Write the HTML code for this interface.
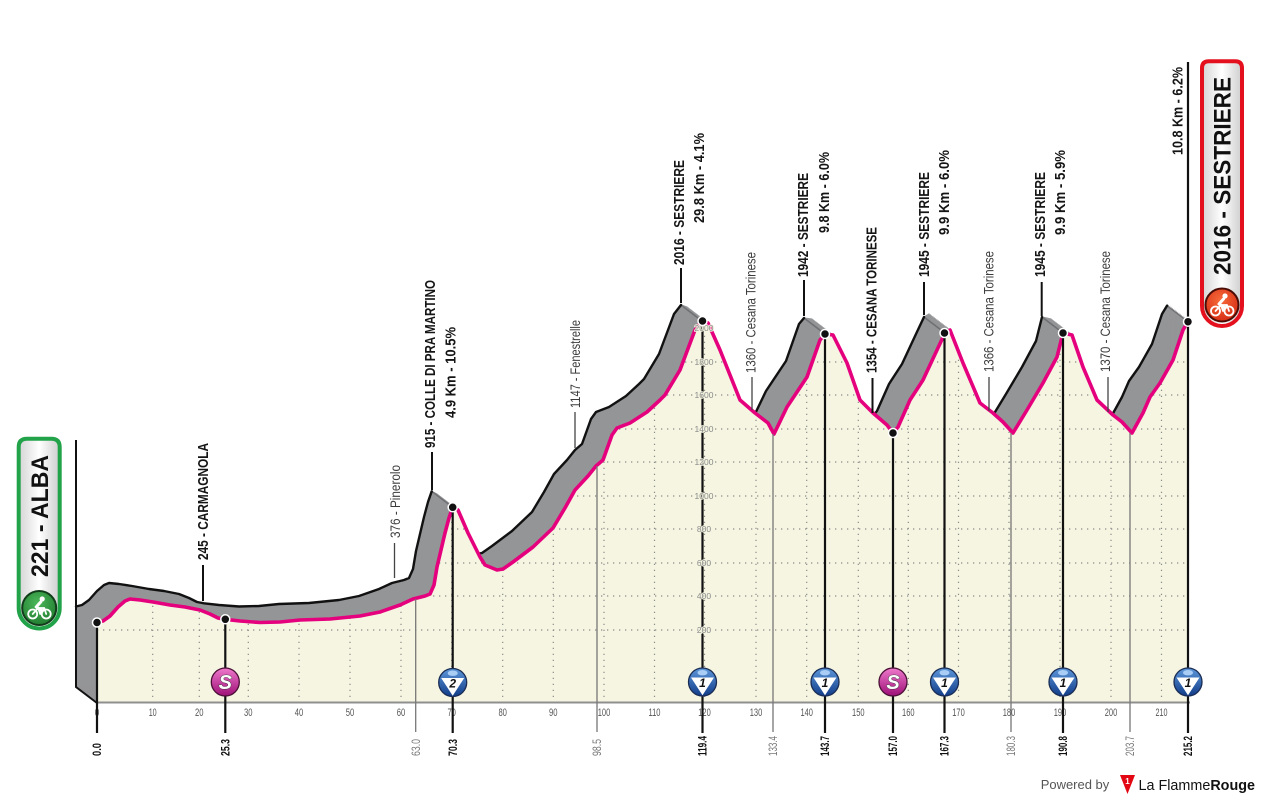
<!DOCTYPE html>
<html><head><meta charset="utf-8"><style>
html,body{margin:0;padding:0;background:#fff;}
svg{display:block;}
.lb{font-family:"Liberation Sans",sans-serif;font-size:15px;font-weight:bold;fill:#151515;}
.lg{font-family:"Liberation Sans",sans-serif;font-size:14px;fill:#3d3d3d;}
.tk{font-family:"Liberation Sans",sans-serif;font-size:11px;fill:#555;}
.kb{font-family:"Liberation Sans",sans-serif;font-size:11.5px;font-weight:bold;fill:#111;}
.kg{font-family:"Liberation Sans",sans-serif;font-size:11.5px;fill:#777;}
.el{font-family:"Liberation Sans",sans-serif;font-size:8.5px;fill:#8a8a8a;stroke:#f5f5e1;stroke-width:1.6px;paint-order:stroke;}
</style></head><body>
<svg width="1261" height="800" viewBox="0 0 1261 800" xmlns="http://www.w3.org/2000/svg">
<defs>
<path id="pk" d="M97,622.5 L103,621 L110,616 L118,607 L125,601 L130,599 L140,600 L153,602 L170,605 L185,607 L200,610 L210,614 L218,618 L225,619.3 L240,621 L260,622.5 L280,622 L300,620 L330,619 L360,616 L380,612 L400,605 L413,599 L425,596 L430,594 L434,585 L437,567 L441,550 L445,533 L449,518 L452.7,507.3 L458,510 L468,533 L480,557 L485,565 L497,570 L503,569 L513,562 L533,547 L553,528 L565,508 L575,490 L588,476 L596,466 L603,460 L612,435 L617,428 L630,423 L647,412 L660,400 L665,395 L680,370 L695,330 L702,321 L708,323 L720,350 L740,400 L755,413 L768,423 L774,434 L787,407 L807,377 L820,340 L825,334 L833,335 L847,363 L860,400 L873,413 L887,425 L893,433 L898,427 L910,400 L923,380 L937,350 L945,333 L950,330 L963,363 L980,403 L993,413 L1003,422 L1013,433 L1027,410 L1043,383 L1057,357 L1063,333 L1072,335 L1083,367 L1097,400 L1113,415 L1122,422 L1132,433 L1143,413 L1150,397 L1160,383 L1173,360 L1183,330 L1188,321.7"/>
<path id="cr" d="M97,622.5 L103,621 L110,616 L118,607 L125,601 L130,599 L140,600 L153,602 L170,605 L185,607 L200,610 L210,614 L218,618 L225,619.3 L240,621 L260,622.5 L280,622 L300,620 L330,619 L360,616 L380,612 L400,605 L413,599 L425,596 L430,594 L434,585 L437,567 L441,550 L445,533 L449,518 L452.7,507.3 L458,510 L468,533 L480,557 L485,565 L497,570 L503,569 L513,562 L533,547 L553,528 L565,508 L575,490 L588,476 L596,466 L603,460 L612,435 L617,428 L630,423 L647,412 L660,400 L665,395 L680,370 L695,330 L702,321 L708,323 L720,350 L740,400 L755,413 L768,423 L774,434 L787,407 L807,377 L820,340 L825,334 L833,335 L847,363 L860,400 L873,413 L887,425 L893,433 L898,427 L910,400 L923,380 L937,350 L945,333 L950,330 L963,363 L980,403 L993,413 L1003,422 L1013,433 L1027,410 L1043,383 L1057,357 L1063,333 L1072,335 L1083,367 L1097,400 L1113,415 L1122,422 L1132,433 L1143,413 L1150,397 L1160,383 L1173,360 L1183,330 L1188,321.7 L1188,703 L97,703 Z"/>
<path id="bk" d="M97,622.5 L103,621 L110,616 L118,607 L125,601 L130,599 L140,600 L153,602 L170,605 L185,607 L200,610 L210,614 L218,618 L225,619.3 L240,621 L260,622.5 L280,622 L300,620 L330,619 L360,616 L380,612 L400,605 L413,599 L425,596 L430,594 L434,585 L437,567 L441,550 L445,533 L449,518 L452.7,507.3 M485,565 L497,570 L503,569 L513,562 L533,547 L553,528 L565,508 L575,490 L588,476 L596,466 L603,460 L612,435 L617,428 L630,423 L647,412 L660,400 L665,395 L680,370 L695,330 L702,321 M768,423 L774,434 L787,407 L807,377 L820,340 L825,334 M887,425 L893,433 L898,427 L910,400 L923,380 L937,350 L945,333 M1003,422 L1013,433 L1027,410 L1043,383 L1057,357 L1063,333 M1122,422 L1132,433 L1143,413 L1150,397 L1160,383 L1173,360 L1183,330 L1188,321.7"/>
<clipPath id="cc"><use href="#cr"/></clipPath>
<linearGradient id="gb" x1="0" y1="0" x2="0" y2="1"><stop offset="0" stop-color="#5d97da"/><stop offset="1" stop-color="#113c88"/></linearGradient>
<linearGradient id="gp" x1="0" y1="0" x2="0" y2="1"><stop offset="0" stop-color="#ee79cc"/><stop offset="1" stop-color="#9e0f76"/></linearGradient>
<linearGradient id="bg" x1="0" y1="0" x2="1" y2="0"><stop offset="0" stop-color="#d4d4d4"/><stop offset="0.5" stop-color="#ffffff"/><stop offset="1" stop-color="#cdcdcd"/></linearGradient>
<radialGradient id="gg" cx="0.45" cy="0.35" r="0.7"><stop offset="0" stop-color="#4cb85a"/><stop offset="1" stop-color="#1f7a2e"/></radialGradient>
<radialGradient id="gr" cx="0.45" cy="0.35" r="0.7"><stop offset="0" stop-color="#f76a3a"/><stop offset="1" stop-color="#d42a12"/></radialGradient>
<g id="bl">
 <circle r="14" fill="url(#gb)" stroke="#1b2d55" stroke-width="1.3"/>
 <ellipse cx="0" cy="-9.3" rx="5" ry="2.7" fill="#a9cdf5"/>
 <path d="M-11.5,-4.5 L11.5,-4.5 L0,13.2 Z" fill="#fff"/>
</g>
<g id="ps">
 <circle r="14" fill="url(#gp)" stroke="#4a1036" stroke-width="1.3"/>
 <text x="0" y="7" text-anchor="middle" font-family="Liberation Sans,sans-serif" font-size="20" font-weight="bold" font-style="italic" fill="#fff" stroke="#333" stroke-width="0.8" paint-order="stroke">S</text>
</g>
<g id="cyc" fill="none" stroke="#fff" stroke-width="1.8" stroke-linecap="round" stroke-linejoin="round">
 <circle cx="-6.5" cy="5" r="4.5"/>
 <circle cx="7" cy="5" r="4.5"/>
 <path d="M-6.5,5 L-1,-1 L5,-1 L7,5 M-1,-1 L1,5 L5,-1"/>
 <circle cx="3" cy="-10" r="2.6" fill="#fff" stroke="none"/>
 <path d="M1.5,-7 L-3,-2 L3,2" stroke-width="3"/>
</g>
</defs>

<!-- grey extrusion -->
<g fill="#949597" stroke="#949597" stroke-width="1.2">
<use href="#cr" transform="translate(-1.31,-1)"/>
<use href="#cr" transform="translate(-2.63,-2)"/>
<use href="#cr" transform="translate(-3.94,-3)"/>
<use href="#cr" transform="translate(-5.25,-4)"/>
<use href="#cr" transform="translate(-6.56,-5)"/>
<use href="#cr" transform="translate(-7.88,-6)"/>
<use href="#cr" transform="translate(-9.19,-7)"/>
<use href="#cr" transform="translate(-10.5,-8)"/>
<use href="#cr" transform="translate(-11.81,-9)"/>
<use href="#cr" transform="translate(-13.13,-10)"/>
<use href="#cr" transform="translate(-14.44,-11)"/>
<use href="#cr" transform="translate(-15.75,-12)"/>
<use href="#cr" transform="translate(-17.06,-13)"/>
<use href="#cr" transform="translate(-18.38,-14)"/>
<use href="#cr" transform="translate(-19.69,-15)"/>
<use href="#cr" transform="translate(-21,-16)"/>
</g>
<!-- peak edges -->
<g stroke="#6f7073" stroke-width="1.5">
<line x1="431.7" y1="491.3" x2="452.7" y2="507.3"/>
<line x1="681" y1="305" x2="702" y2="321"/>
<line x1="804" y1="318" x2="825" y2="334"/>
<line x1="924" y1="317" x2="945" y2="333"/>
<line x1="1042" y1="317" x2="1063" y2="333"/>
<line x1="1167" y1="305.7" x2="1188" y2="321.7"/>
</g>
<use href="#bk" transform="translate(-21,-16)" fill="none" stroke="#111" stroke-width="2.4" stroke-linejoin="round" stroke-linecap="round"/>
<path d="M76,606.5 L76,687 L97,703" fill="none" stroke="#111" stroke-width="2"/>
<line x1="76" y1="440" x2="76" y2="607" stroke="#111" stroke-width="2"/>

<!-- cream area -->
<use href="#cr" fill="#f5f5e1"/>

<!-- grid -->
<g clip-path="url(#cc)" stroke="#8c8c8c" stroke-width="1.2" stroke-dasharray="1.3 4.7" fill="none">
<path d="M97,630H1188M97,596H1188M97,563H1188M97,529H1188M97,496H1188M97,462H1188M97,429H1188M97,395H1188M97,362H1188M97,328H1188"/>
<path d="M152.7,703V300M199.3,703V300M248.3,703V300M299,703V300M350,703V300M401,703V300M451.7,703V300M502.7,703V300M553.3,703V300M604,703V300M654.5,703V300M704.5,703V300M756,703V300M806.7,703V300M858.3,703V300M908.3,703V300M958.5,703V300M1009,703V300M1060,703V300M1111,703V300M1161.5,703V300"/>
</g>

<!-- pink line -->
<use href="#pk" fill="none" stroke="#e5007d" stroke-width="3.6" stroke-linejoin="round" stroke-linecap="round"/>

<!-- axis -->
<line x1="97" y1="702.5" x2="1190" y2="702.5" stroke="#8f8f8f" stroke-width="2"/>

<!-- tick labels -->
<g class="tk" text-anchor="middle">
<text x="97" y="716" textLength="4.5" lengthAdjust="spacingAndGlyphs">0</text>
<text x="152.7" y="716" textLength="8" lengthAdjust="spacingAndGlyphs">10</text>
<text x="199.3" y="716" textLength="8.5" lengthAdjust="spacingAndGlyphs">20</text>
<text x="248.3" y="716" textLength="8.5" lengthAdjust="spacingAndGlyphs">30</text>
<text x="299" y="716" textLength="8.5" lengthAdjust="spacingAndGlyphs">40</text>
<text x="350" y="716" textLength="8.5" lengthAdjust="spacingAndGlyphs">50</text>
<text x="401" y="716" textLength="8.5" lengthAdjust="spacingAndGlyphs">60</text>
<text x="451.7" y="716" textLength="8.5" lengthAdjust="spacingAndGlyphs">70</text>
<text x="502.7" y="716" textLength="8.5" lengthAdjust="spacingAndGlyphs">80</text>
<text x="553.3" y="716" textLength="8.5" lengthAdjust="spacingAndGlyphs">90</text>
<text x="604" y="716" textLength="12.5" lengthAdjust="spacingAndGlyphs">100</text>
<text x="654.5" y="716" textLength="12" lengthAdjust="spacingAndGlyphs">110</text>
<text x="704.5" y="716" textLength="12.5" lengthAdjust="spacingAndGlyphs">120</text>
<text x="756" y="716" textLength="12.5" lengthAdjust="spacingAndGlyphs">130</text>
<text x="806.7" y="716" textLength="12.5" lengthAdjust="spacingAndGlyphs">140</text>
<text x="858.3" y="716" textLength="12.5" lengthAdjust="spacingAndGlyphs">150</text>
<text x="908.3" y="716" textLength="12.5" lengthAdjust="spacingAndGlyphs">160</text>
<text x="958.5" y="716" textLength="12.5" lengthAdjust="spacingAndGlyphs">170</text>
<text x="1009" y="716" textLength="12.5" lengthAdjust="spacingAndGlyphs">180</text>
<text x="1060" y="716" textLength="12.5" lengthAdjust="spacingAndGlyphs">190</text>
<text x="1111" y="716" textLength="12.5" lengthAdjust="spacingAndGlyphs">200</text>
<text x="1161.5" y="716" textLength="12" lengthAdjust="spacingAndGlyphs">210</text>
</g>

<!-- grey marker lines -->
<g stroke="#777" stroke-width="1.3">
<line x1="415.7" y1="599" x2="415.7" y2="732"/>
<line x1="597" y1="466" x2="597" y2="732"/>
<line x1="773" y1="434" x2="773" y2="732"/>
<line x1="1011" y1="433" x2="1011" y2="732"/>
<line x1="1130" y1="433" x2="1130" y2="732"/>
</g>
<!-- black marker lines -->
<g stroke="#111" stroke-width="2.2">
<line x1="97" y1="622.5" x2="97" y2="733"/>
<line x1="225.3" y1="619.3" x2="225.3" y2="733"/>
<line x1="452.7" y1="507.3" x2="452.7" y2="733"/>
<line x1="702.5" y1="321" x2="702.5" y2="733"/>
<line x1="825" y1="334" x2="825" y2="733"/>
<line x1="893" y1="433" x2="893" y2="733"/>
<line x1="944.5" y1="333" x2="944.5" y2="733"/>
<line x1="1063" y1="333" x2="1063" y2="733"/>
<line x1="1188" y1="62" x2="1188" y2="733"/>
</g>

<!-- elevation labels -->
<g class="el" text-anchor="middle">
<text x="704" y="633">200</text>
<text x="704" y="599">400</text>
<text x="704" y="566">600</text>
<text x="704" y="532">800</text>
<text x="704" y="499">1000</text>
<text x="704" y="465">1200</text>
<text x="704" y="432">1400</text>
<text x="704" y="398">1600</text>
<text x="704" y="365">1800</text>
<text x="704" y="331">2000</text>
</g>

<!-- leaders -->
<g stroke="#111" stroke-width="2">
<line x1="203" y1="565" x2="203" y2="601"/>
<line x1="432" y1="452" x2="432" y2="490"/>
<line x1="681" y1="268" x2="681" y2="303"/>
<line x1="804" y1="280" x2="804" y2="316"/>
<line x1="872.5" y1="378" x2="872.5" y2="413"/>
<line x1="924" y1="282" x2="924" y2="315"/>
<line x1="1041.7" y1="282" x2="1041.7" y2="316"/>
</g>
<g stroke="#444" stroke-width="1.3">
<line x1="394.5" y1="543" x2="394.5" y2="578"/>
<line x1="575" y1="412" x2="575" y2="448"/>
<line x1="752" y1="377" x2="752" y2="410"/>
<line x1="989" y1="377" x2="989" y2="411"/>
<line x1="1108" y1="377" x2="1108" y2="412"/>
</g>

<!-- dots -->
<g fill="#111" stroke="#fff" stroke-width="1.5">
<circle cx="97" cy="622.5" r="4.5"/>
<circle cx="225.3" cy="619.3" r="4.5"/>
<circle cx="452.7" cy="507.3" r="4.5"/>
<circle cx="702.5" cy="321" r="4.5"/>
<circle cx="825" cy="334" r="4.5"/>
<circle cx="893" cy="433" r="4.5"/>
<circle cx="944.5" cy="333" r="4.5"/>
<circle cx="1063" cy="333" r="4.5"/>
<circle cx="1188" cy="321.7" r="4.5"/>
</g>

<!-- top labels -->
<text class="lb" transform="translate(208.2,560) rotate(-90)" textLength="117" lengthAdjust="spacingAndGlyphs">245 - CARMAGNOLA</text>
<text class="lg" transform="translate(400,538) rotate(-90)" textLength="73" lengthAdjust="spacingAndGlyphs">376 - Pinerolo</text>
<text class="lb" transform="translate(434.8,448) rotate(-90)" textLength="168" lengthAdjust="spacingAndGlyphs">915 - COLLE DI PRA MARTINO</text>
<text class="lb" transform="translate(455.5,418) rotate(-90)" textLength="91" lengthAdjust="spacingAndGlyphs">4.9 Km - 10.5%</text>
<text class="lg" transform="translate(580,408) rotate(-90)" textLength="88" lengthAdjust="spacingAndGlyphs">1147 - Fenestrelle</text>
<text class="lb" transform="translate(683.8,265) rotate(-90)" textLength="105" lengthAdjust="spacingAndGlyphs">2016 - SESTRIERE</text>
<text class="lb" transform="translate(703.8,223) rotate(-90)" textLength="90" lengthAdjust="spacingAndGlyphs">29.8 Km - 4.1%</text>
<text class="lg" transform="translate(755.5,373) rotate(-90)" textLength="121" lengthAdjust="spacingAndGlyphs">1360 - Cesana Torinese</text>
<text class="lb" transform="translate(808.2,277) rotate(-90)" textLength="104" lengthAdjust="spacingAndGlyphs">1942 - SESTRIERE</text>
<text class="lb" transform="translate(828.8,233) rotate(-90)" textLength="81" lengthAdjust="spacingAndGlyphs">9.8 Km - 6.0%</text>
<text class="lb" transform="translate(876.5,373) rotate(-90)" textLength="146" lengthAdjust="spacingAndGlyphs">1354 - CESANA TORINESE</text>
<text class="lb" transform="translate(928.8,277) rotate(-90)" textLength="105" lengthAdjust="spacingAndGlyphs">1945 - SESTRIERE</text>
<text class="lb" transform="translate(948.8,235) rotate(-90)" textLength="85" lengthAdjust="spacingAndGlyphs">9.9 Km - 6.0%</text>
<text class="lg" transform="translate(993.3,372) rotate(-90)" textLength="121" lengthAdjust="spacingAndGlyphs">1366 - Cesana Torinese</text>
<text class="lb" transform="translate(1044.8,277) rotate(-90)" textLength="105" lengthAdjust="spacingAndGlyphs">1945 - SESTRIERE</text>
<text class="lb" transform="translate(1064.8,235) rotate(-90)" textLength="85" lengthAdjust="spacingAndGlyphs">9.9 Km - 5.9%</text>
<text class="lg" transform="translate(1110,372) rotate(-90)" textLength="121" lengthAdjust="spacingAndGlyphs">1370 - Cesana Torinese</text>
<text class="lb" transform="translate(1182.5,155) rotate(-90)" textLength="88" lengthAdjust="spacingAndGlyphs">10.8 Km - 6.2%</text>

<!-- km labels below -->
<text class="kb" transform="translate(101.2,756) rotate(-90)" textLength="13" lengthAdjust="spacingAndGlyphs">0.0</text>
<text class="kb" transform="translate(229.5,756) rotate(-90)" textLength="17" lengthAdjust="spacingAndGlyphs">25.3</text>
<text class="kg" transform="translate(419.9,756) rotate(-90)" textLength="17" lengthAdjust="spacingAndGlyphs">63.0</text>
<text class="kb" transform="translate(456.9,756) rotate(-90)" textLength="17" lengthAdjust="spacingAndGlyphs">70.3</text>
<text class="kg" transform="translate(601.2,756) rotate(-90)" textLength="17" lengthAdjust="spacingAndGlyphs">98.5</text>
<text class="kb" transform="translate(706.7,756) rotate(-90)" textLength="20" lengthAdjust="spacingAndGlyphs">119.4</text>
<text class="kg" transform="translate(777.2,756) rotate(-90)" textLength="20" lengthAdjust="spacingAndGlyphs">133.4</text>
<text class="kb" transform="translate(829.2,756) rotate(-90)" textLength="20" lengthAdjust="spacingAndGlyphs">143.7</text>
<text class="kb" transform="translate(897.2,756) rotate(-90)" textLength="20" lengthAdjust="spacingAndGlyphs">157.0</text>
<text class="kb" transform="translate(948.7,756) rotate(-90)" textLength="20" lengthAdjust="spacingAndGlyphs">167.3</text>
<text class="kg" transform="translate(1015.2,756) rotate(-90)" textLength="20" lengthAdjust="spacingAndGlyphs">180.3</text>
<text class="kb" transform="translate(1067.2,756) rotate(-90)" textLength="20" lengthAdjust="spacingAndGlyphs">190.8</text>
<text class="kg" transform="translate(1134.2,756) rotate(-90)" textLength="20" lengthAdjust="spacingAndGlyphs">203.7</text>
<text class="kb" transform="translate(1192.2,756) rotate(-90)" textLength="20" lengthAdjust="spacingAndGlyphs">215.2</text>

<!-- icons -->
<use href="#ps" transform="translate(225.3,682)"/>
<use href="#ps" transform="translate(893,682)"/>
<g font-family="Liberation Sans,sans-serif" font-size="12" font-weight="bold" font-style="italic" fill="#111" text-anchor="middle">
<use href="#bl" transform="translate(452.7,682.5)"/><text x="452.7" y="687.5">2</text>
<use href="#bl" transform="translate(702.5,682)"/><text x="702.5" y="687">1</text>
<use href="#bl" transform="translate(825,682)"/><text x="825" y="687">1</text>
<use href="#bl" transform="translate(944.5,682)"/><text x="944.5" y="687">1</text>
<use href="#bl" transform="translate(1063,682)"/><text x="1063" y="687">1</text>
<use href="#bl" transform="translate(1188,682)"/><text x="1188" y="687">1</text>
</g>

<!-- start badge -->
<path d="M18.7,447 Q18.7,438.7 27,438.7 L51.4,438.7 Q59.7,438.7 59.7,447 L59.7,608 A20.5,20.5 0 0 1 18.7,608 Z" fill="url(#bg)" stroke="#22a34a" stroke-width="4"/>
<text transform="translate(47.8,577) rotate(-90)" textLength="122" lengthAdjust="spacingAndGlyphs" font-family="Liberation Sans,sans-serif" font-size="24" font-weight="bold" fill="#111">221 - ALBA</text>
<circle cx="39.2" cy="608" r="17" fill="url(#gg)" stroke="#123d1a" stroke-width="2"/>
<use href="#cyc" transform="translate(39.2,609)"/>

<!-- finish badge -->
<path d="M1202,68 Q1202,61.3 1209,61.3 L1235,61.3 Q1242,61.3 1242,68 L1242,306 A20,20 0 0 1 1202,306 Z" fill="url(#bg)" stroke="#e5101e" stroke-width="4"/>
<text transform="translate(1230.4,275) rotate(-90)" textLength="198" lengthAdjust="spacingAndGlyphs" font-family="Liberation Sans,sans-serif" font-size="24" font-weight="bold" fill="#111">2016 - SESTRIERE</text>
<circle cx="1222" cy="305" r="16.5" fill="url(#gr)" stroke="#4a0c05" stroke-width="2"/>
<use href="#cyc" transform="translate(1222,306)"/>

<!-- powered by -->
<text x="1040.7" y="789" font-family="Liberation Sans,sans-serif" font-size="13" fill="#555" textLength="68.6" lengthAdjust="spacingAndGlyphs">Powered by</text>
<path d="M1120,775 L1135,775 L1127.5,794 Z" fill="#e30613"/>
<text x="1127.5" y="784" text-anchor="middle" font-family="Liberation Sans,sans-serif" font-size="8" font-weight="bold" fill="#fff">1</text>
<text x="1138.5" y="790" font-family="Liberation Sans,sans-serif" font-size="15" fill="#111" textLength="116.5" lengthAdjust="spacingAndGlyphs">La Flamme<tspan font-weight="bold">Rouge</tspan></text>
</svg>
</body></html>
